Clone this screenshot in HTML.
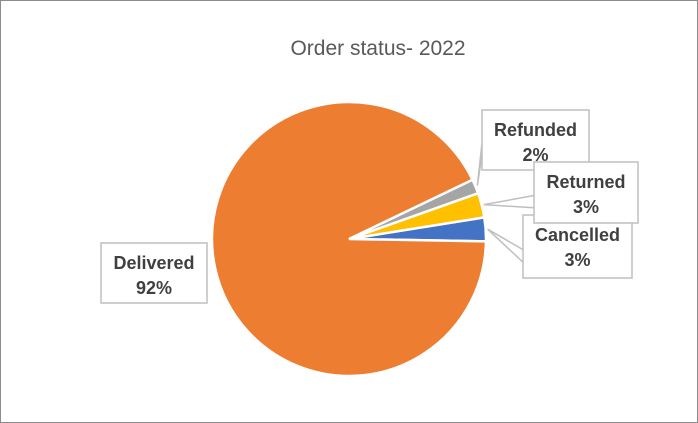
<!DOCTYPE html>
<html><head><meta charset="utf-8"><style>
body{margin:0;background:#fff}
svg{display:block;font-family:"Liberation Sans",sans-serif}
</style></head><body>
<svg width="698" height="423">
<rect x="0.5" y="0.5" width="697" height="422" fill="#fff" stroke="#8c8c8c"/>
<text x="378" y="55" text-anchor="middle" font-size="21" fill="#595959">Order status- 2022</text>
<g id="slices"></g>
<g id="labels"></g>
</svg>
<script>
const categories = ["Cancelled","Returned","Refunded","Delivered"];
const values = [2.8, 2.9, 1.7, 92.6];
const labels = ["3%","3%","2%","92%"];
const colors = ["#4472c4","#ffc000","#a5a5a5","#ed7d31"];
const cx=349, cy=239, r=137, startDeg=-1;
const NS="http://www.w3.org/2000/svg";
const total=values.reduce((a,b)=>a+b,0);
const sg=document.getElementById('slices');
let a=startDeg;
const mids=[];
values.forEach((v,i)=>{
  const s=a, e=a+v/total*360; a=e;
  mids.push((s+e)/2);
  const p=d=>[cx+r*Math.cos(d*Math.PI/180), cy-r*Math.sin(d*Math.PI/180)];
  const [x1,y1]=p(s),[x2,y2]=p(e);
  const large=(e-s)>180?1:0;
  const path=document.createElementNS(NS,'path');
  path.setAttribute('d',`M${cx},${cy} L${x1},${y1} A${r},${r} 0 ${large} 0 ${x2},${y2} Z`);
  path.setAttribute('fill',colors[i]);
  path.setAttribute('stroke','#fff');
  path.setAttribute('stroke-width','2.5');
  
  
  sg.appendChild(path);
});
const boxes={Cancelled:[523,215,109,63],Refunded:[482,110,107,60],Returned:[534,162,104,61],Delivered:[101,243,106,60]};
const order=["Delivered","Cancelled","Refunded","Returned"];
const lg=document.getElementById('labels');
order.forEach(name=>{
  const i=categories.indexOf(name);
  const [bx,by,bw,bh]=boxes[name];
  const md=mids[i]*Math.PI/180;
  const tx=cx+(r+2)*Math.cos(md), ty=cy-(r+2)*Math.sin(md);
  const g=document.createElementNS(NS,'g');
  
  
  if(name!=="Delivered"){
    const ln=document.createElementNS(NS,'polyline');
    const ax = tx<bx ? bx : bx+bw;
    ln.setAttribute('points',`${ax},${by+bh*0.55} ${tx},${ty} ${ax},${by+bh*0.75}`);
    ln.setAttribute('fill','#fff');ln.setAttribute('stroke','#bfbfbf');ln.setAttribute('stroke-width','1.5');
    g.appendChild(ln);
  }
  const rc=document.createElementNS(NS,'rect');
  rc.setAttribute('x',bx);rc.setAttribute('y',by);rc.setAttribute('width',bw);rc.setAttribute('height',bh);
  rc.setAttribute('fill','#fff');rc.setAttribute('stroke','#bfbfbf');rc.setAttribute('stroke-width','1.5');
  g.appendChild(rc);
  [name,labels[i]].forEach((t,k)=>{
    const tt=document.createElementNS(NS,'text');
    tt.setAttribute('x',bx+bw/2);tt.setAttribute('y',by+26+k*25);
    tt.setAttribute('text-anchor','middle');tt.setAttribute('font-size','18');
    tt.setAttribute('font-weight','bold');
    tt.setAttribute('fill','#404040');
    tt.textContent=t;
    g.appendChild(tt);
  });
  lg.appendChild(g);
});
</script>
</body></html>
